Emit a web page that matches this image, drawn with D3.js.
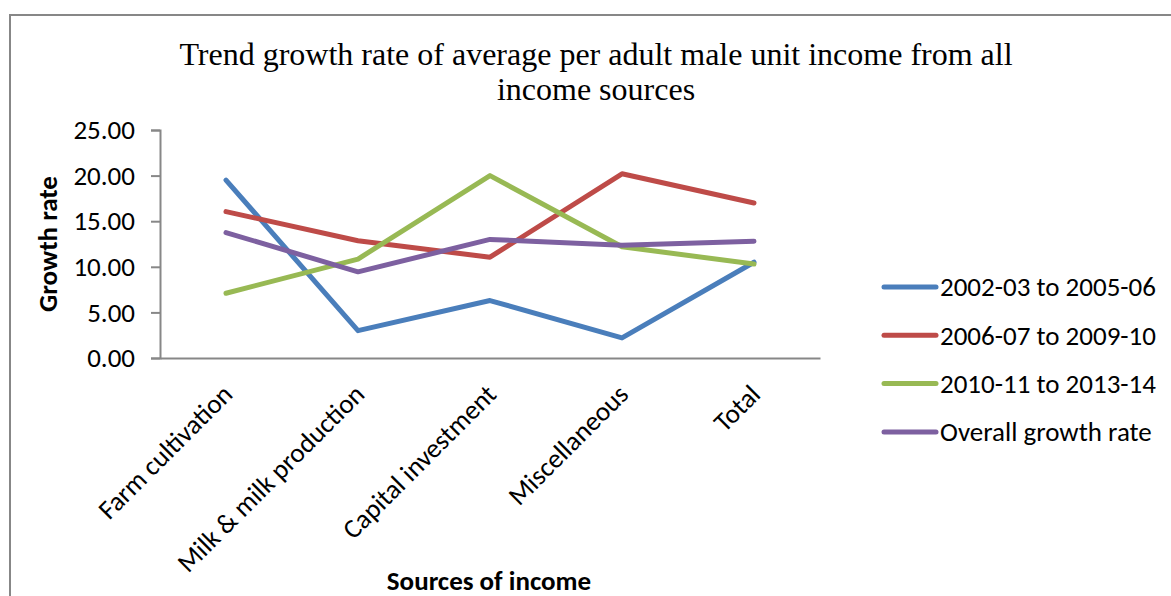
<!DOCTYPE html>
<html>
<head>
<meta charset="utf-8">
<script src="https://cdn.jsdelivr.net/npm/d3@7"></script>
<style>
  html, body { margin: 0; padding: 0; background: #fff; }
  svg { display: block; }
  .tick text { font-family: Carlito, Calibri, Lato, sans-serif; }
</style>
</head>
<body>
<svg id="chart" width="1171" height="596"></svg>
<script>
// Income sources on the category axis
const categories = ["Farm cultivation", "Milk & milk production", "Capital investment", "Miscellaneous", "Total"];

// Trend growth rate (%) for each period
const period2002 = [19.5, 3.0, 6.3, 2.2, 10.5];
const period2006 = [16.05, 12.85, 11.05, 20.2, 17.0];
const period2010 = [7.1, 10.85, 20.0, 12.2, 10.3];
const overallRate = [13.75, 9.45, 13.0, 12.35, 12.8];

const seriesNames = ["2002-03 to 2005-06", "2006-07 to 2009-10", "2010-11 to 2013-14", "Overall growth rate"];
const seriesColors = ["#4a7ebb", "#be4b48", "#98b954", "#7d60a0"];

const yTicks = [0, 5, 10, 15, 20, 25];

const series = [period2002, period2006, period2010, overallRate].map((values, i) => ({
  name: seriesNames[i],
  color: seriesColors[i],
  values: values
}));

const svg = d3.select("#chart");
const font = "Carlito, Calibri, Lato, sans-serif";

// Chart area frame
svg.append("path")
  .attr("d", "M10,600 V15 H1175")
  .attr("fill", "none")
  .attr("stroke", "#878787")
  .attr("stroke-width", 2);

// Title
const title = svg.append("text")
  .attr("font-family", "'Liberation Serif', 'Times New Roman', serif")
  .attr("font-size", 32)
  .attr("fill", "#000")
  .attr("text-anchor", "middle");
title.append("tspan").attr("x", 596).attr("y", 65)
  .text("Trend growth rate of average per adult male unit income from all");
title.append("tspan").attr("x", 596).attr("y", 100)
  .text("income sources");

const plot = { left: 160, right: 820, top: 130, bottom: 358 };

const x = d3.scaleBand()
  .domain(categories)
  .range([plot.left, plot.right]);

const y = d3.scaleLinear()
  .domain([0, 25])
  .range([plot.bottom, plot.top]);

// Y axis
const yAxis = svg.append("g")
  .attr("transform", `translate(${plot.left},0)`)
  .call(d3.axisLeft(y).tickValues(yTicks).tickFormat(d3.format(".2f")).tickSize(9).tickPadding(16));
yAxis.select(".domain").attr("stroke", "#878787").attr("stroke-width", 2);
yAxis.selectAll(".tick line").attr("stroke", "#878787").attr("stroke-width", 2);
yAxis.selectAll(".tick text")
  .attr("font-size", 27)
  .attr("fill", "#000");

// X axis
const xAxis = svg.append("g")
  .attr("transform", `translate(0,${plot.bottom})`)
  .call(d3.axisBottom(x).tickSize(0).tickPadding(0));
xAxis.select(".domain").attr("stroke", "#878787").attr("stroke-width", 2);
xAxis.selectAll(".tick text")
  .attr("font-size", 27)
  .attr("fill", "#000")
  .attr("text-anchor", "end")
  .attr("dy", 0)
  .attr("transform", "translate(8,38) rotate(-45)");

// Series lines
const line = d3.line()
  .x((d, i) => x(categories[i]) + x.bandwidth() / 2)
  .y(d => y(d));

svg.append("g")
  .selectAll("path")
  .data(series)
  .join("path")
  .attr("d", d => line(d.values))
  .attr("fill", "none")
  .attr("stroke", d => d.color)
  .attr("stroke-width", 5)
  .attr("stroke-linejoin", "round")
  .attr("stroke-linecap", "round");

// Axis titles
svg.append("text")
  .attr("transform", `translate(57,${(plot.top + plot.bottom) / 2}) rotate(-90)`)
  .attr("text-anchor", "middle")
  .attr("font-family", font)
  .attr("font-weight", "bold")
  .attr("font-size", 27)
  .attr("fill", "#000")
  .text("Growth rate");

svg.append("text")
  .attr("x", 489)
  .attr("y", 590)
  .attr("text-anchor", "middle")
  .attr("font-family", font)
  .attr("font-weight", "bold")
  .attr("font-size", 27)
  .attr("fill", "#000")
  .text("Sources of income");

// Legend
const legend = svg.append("g")
  .selectAll("g")
  .data(series)
  .join("g")
  .attr("transform", (d, i) => `translate(884,${287 + i * 48.3})`);
legend.append("line")
  .attr("x1", 0).attr("x2", 52)
  .attr("stroke", d => d.color)
  .attr("stroke-width", 5)
  .attr("stroke-linecap", "round");
legend.append("text")
  .attr("x", 56)
  .attr("dy", "0.35em")
  .attr("font-family", font)
  .attr("font-size", 27)
  .attr("fill", "#000")
  .text(d => d.name);
</script>
</body>
</html>
